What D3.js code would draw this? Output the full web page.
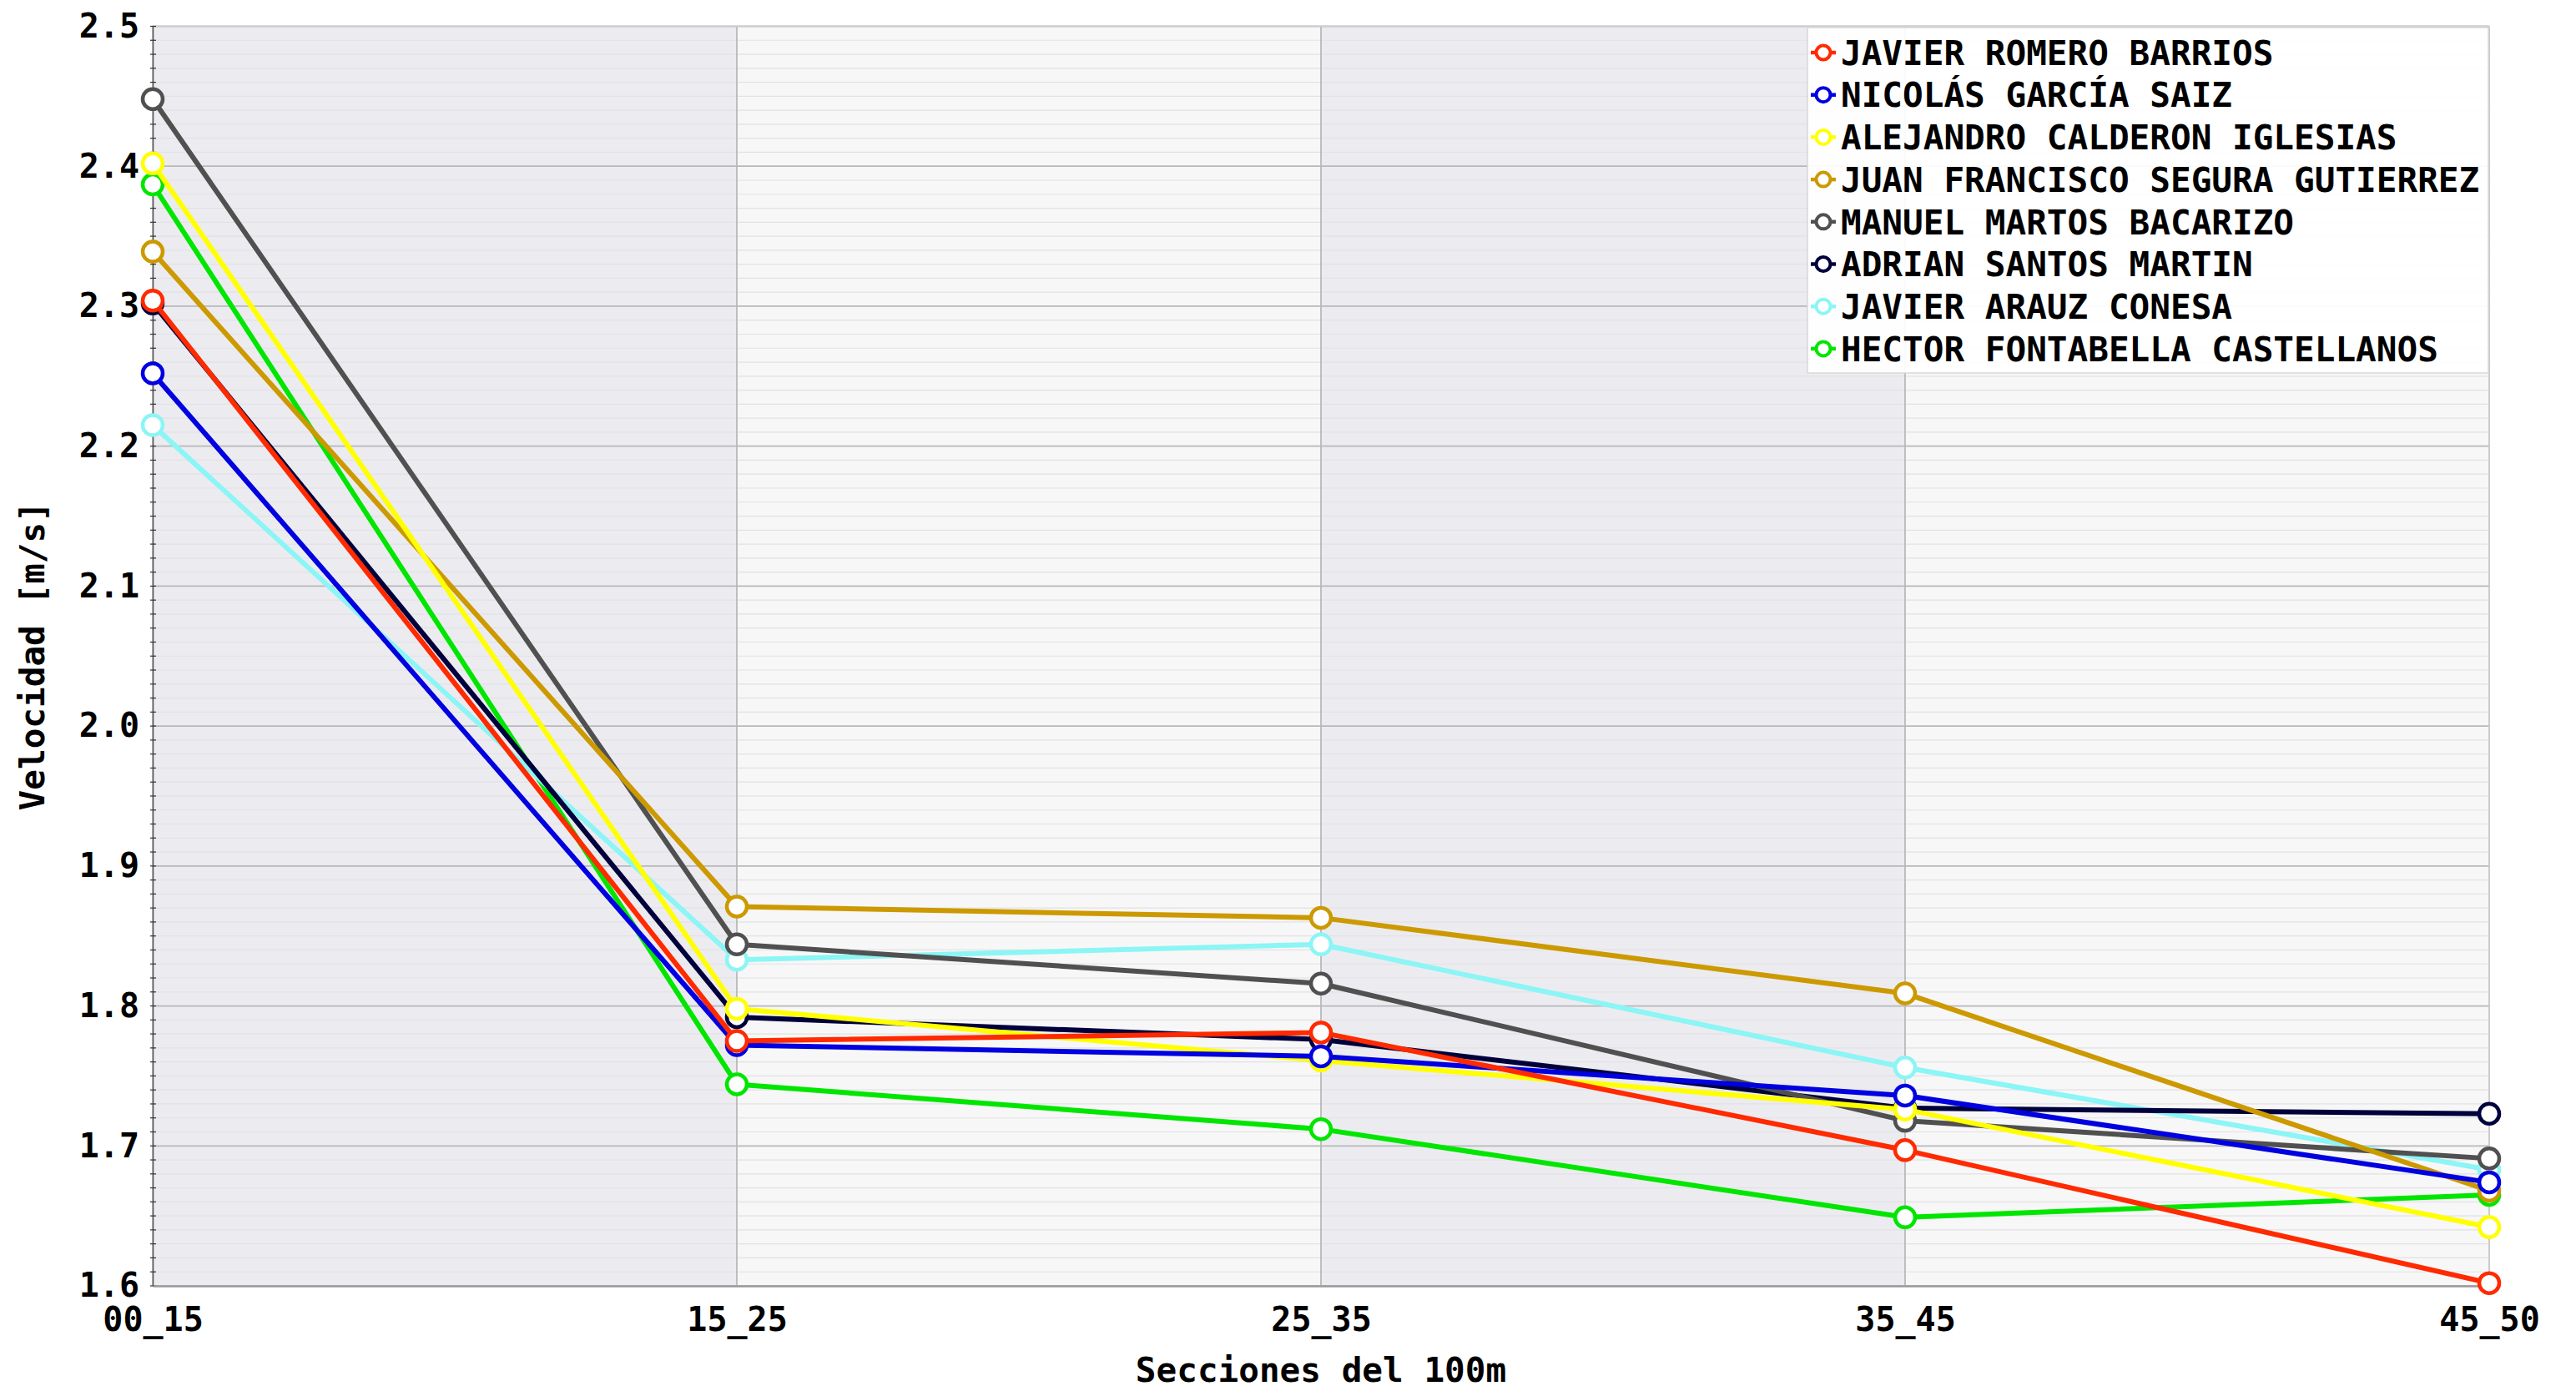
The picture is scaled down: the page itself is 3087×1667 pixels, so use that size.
<!DOCTYPE html>
<html><head><meta charset="utf-8">
<script src="https://cdn.jsdelivr.net/npm/d3@7"></script>
<style>html,body{margin:0;padding:0;background:#fff;}svg{display:block;}</style>
</head><body>
<script>
const categories = ["00_15","15_25","25_35","35_45","45_50"];
const seriesNames = [
  "JAVIER ROMERO BARRIOS",
  "NICOLÁS GARCÍA SAIZ",
  "ALEJANDRO CALDERON IGLESIAS",
  "JUAN FRANCISCO SEGURA GUTIERREZ",
  "MANUEL MARTOS BACARIZO",
  "ADRIAN SANTOS MARTIN",
  "JAVIER ARAUZ CONESA",
  "HECTOR FONTABELLA CASTELLANOS"
];
const seriesColors = ["#ff2a00","#0000e0","#ffff00","#cc9900","#505050","#00003c","#8cf5f5","#00e600"];
const valuesRomero    = [2.304, 1.775, 1.781, 1.697, 1.602];
const valuesGarcia    = [2.252, 1.772, 1.764, 1.736, 1.674];
const valuesCalderon  = [2.402, 1.798, 1.761, 1.726, 1.642];
const valuesSegura    = [2.339, 1.871, 1.863, 1.809, 1.668];
const valuesMartos    = [2.448, 1.844, 1.816, 1.718, 1.691];
const valuesSantos    = [2.302, 1.792, 1.776, 1.727, 1.723];
const valuesArauz     = [2.215, 1.833, 1.844, 1.756, 1.683];
const valuesFontabella= [2.387, 1.744, 1.712, 1.649, 1.665];
const yTicks = [1.6,1.7,1.8,1.9,2.0,2.1,2.2,2.3,2.4,2.5];
const xTitle = "Secciones del 100m";
const yTitle = "Velocidad [m/s]";

const allValues = [valuesRomero,valuesGarcia,valuesCalderon,valuesSegura,valuesMartos,valuesSantos,valuesArauz,valuesFontabella];
const series = seriesNames.map((n,i)=>({name:n,color:seriesColors[i],values:allValues[i]}));

const W=3087,H=1667;
const L=183,R=2983,T=31.5,B=1541;
const FONT="'DejaVu Sans Mono', monospace";

const svg=d3.select("body").append("svg").attr("width",W).attr("height",H);
const x=d3.scalePoint().domain(categories).range([L,R]);
const y=d3.scaleLinear().domain([1.6,2.5]).range([B,T]);

// background bands
const g=svg.append("g");
for(let i=0;i<categories.length-1;i++){
  g.append("rect").attr("x",x(categories[i])).attr("y",T)
   .attr("width",x(categories[i+1])-x(categories[i])).attr("height",B-T)
   .attr("fill", i%2===0 ? "#ececf0" : "#f7f7f7");
}
// minor gridlines
const minor=d3.range(160,251).map(v=>v/100).filter(v=>Math.abs(v*10-Math.round(v*10))>1e-6);
g.selectAll("line.minor").data(minor).join("line")
 .attr("x1",L).attr("x2",R).attr("y1",d=>y(d)).attr("y2",d=>y(d))
 .attr("stroke","#e2e2e6").attr("stroke-width",1.2);
// major gridlines
g.selectAll("line.major").data(yTicks).join("line")
 .attr("x1",L).attr("x2",R).attr("y1",d=>y(d)).attr("y2",d=>y(d))
 .attr("stroke","#b8b8bc").attr("stroke-width",1.8);
g.selectAll("line.vgrid").data(categories).join("line")
 .attr("x1",d=>x(d)).attr("x2",d=>x(d)).attr("y1",T).attr("y2",B)
 .attr("stroke","#b8b8bc").attr("stroke-width",1.8);
// frame
g.append("rect").attr("x",L).attr("y",T).attr("width",R-L).attr("height",B-T)
 .attr("fill","none").attr("stroke","#d0d0d4").attr("stroke-width",1.5);

// axes
const yAxis=d3.axisLeft(y).tickValues(yTicks).tickSize(0).tickPadding(16).tickFormat(d3.format(".1f"));
const ya=svg.append("g").attr("transform",`translate(${L},0)`).call(yAxis);
ya.select(".domain").attr("stroke","#555").attr("stroke-width",1.5);
ya.selectAll("text").attr("font-family",FONT).attr("font-weight","bold").attr("font-size",40).attr("fill","#000");
// minor ticks on y axis
svg.selectAll("line.ymt").data(d3.range(160,251).map(v=>v/100)).join("line")
 .attr("x1",L-3).attr("x2",L+4).attr("y1",d=>y(d)).attr("y2",d=>y(d))
 .attr("stroke","#333").attr("stroke-width",1.2);

const xAxis=d3.axisBottom(x).tickSize(0).tickPadding(26);
const xa=svg.append("g").attr("transform",`translate(0,${B})`).call(xAxis);
xa.select(".domain").attr("stroke","#9a9a9a").attr("stroke-width",2.5);
xa.selectAll("text").attr("font-family",FONT).attr("font-weight","bold").attr("font-size",40).attr("fill","#000");

svg.append("text").attr("x",(L+R)/2).attr("y",1656).attr("text-anchor","middle")
 .attr("font-family",FONT).attr("font-weight","bold").attr("font-size",41).text(xTitle);
svg.append("text").attr("transform",`translate(53,${(T+B)/2}) rotate(-90)`).attr("text-anchor","middle")
 .attr("font-family",FONT).attr("font-weight","bold").attr("font-size",41).text(yTitle);

// lines
const line=d3.line().x((d,i)=>x(categories[i])).y(d=>y(d));
const plot=svg.append("g");
series.slice().reverse().forEach(s=>{
  const sg=plot.append("g");
  sg.append("path").attr("d",line(s.values)).attr("fill","none")
    .attr("stroke",s.color).attr("stroke-width",6).attr("stroke-linejoin","round");
  sg.selectAll("circle").data(s.values).join("circle")
    .attr("cx",(d,i)=>x(categories[i])).attr("cy",d=>y(d)).attr("r",12)
    .attr("fill","#fff").attr("stroke",s.color).attr("stroke-width",4.5);
});

// legend
const lg=svg.append("g");
lg.append("rect").attr("x",2166).attr("y",33).attr("width",816).attr("height",414)
  .attr("fill","#fff").attr("fill-opacity",0.92).attr("stroke","#d8d8d8").attr("stroke-width",1.5);
series.forEach((s,i)=>{
  const cy=63+i*50.7;
  lg.append("line").attr("x1",2170).attr("x2",2200).attr("y1",cy).attr("y2",cy)
    .attr("stroke",s.color).attr("stroke-width",4.5);
  lg.append("circle").attr("cx",2185).attr("cy",cy).attr("r",8.5)
    .attr("fill","#fff").attr("stroke",s.color).attr("stroke-width",4);
  lg.append("text").attr("x",2206).attr("y",cy).attr("dy","0.36em")
    .attr("font-family",FONT).attr("font-weight","bold").attr("font-size",41).attr("fill","#000").text(s.name);
});
</script>
</body></html>
